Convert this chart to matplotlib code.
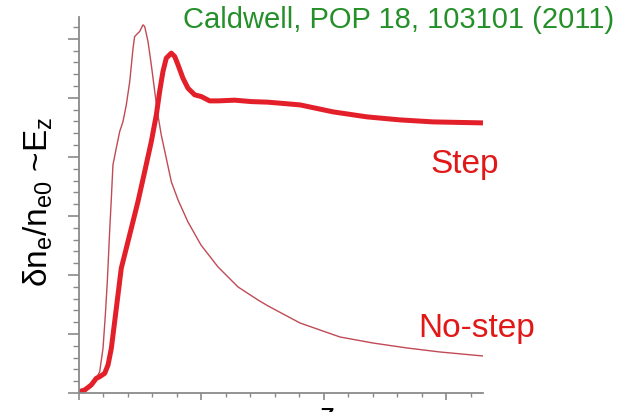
import numpy as np
import matplotlib
matplotlib.use('Agg')
import matplotlib.pyplot as plt
from matplotlib.ticker import MultipleLocator, NullFormatter

plt.rcParams['font.family'] = ['Liberation Sans', 'DejaVu Sans']
plt.rcParams['mathtext.fontset'] = 'custom'
plt.rcParams['mathtext.rm'] = 'Liberation Sans'
plt.rcParams['mathtext.it'] = 'Liberation Sans:italic'

# z in units of major x ticks, signal in units of major y ticks
nostep_z = [0.000, 0.077, 0.145, 0.173, 0.200, 0.219, 0.235, 0.254, 0.268, 0.281,
            0.308, 0.336, 0.363, 0.390, 0.418, 0.445, 0.458, 0.485, 0.499, 0.526,
            0.540, 0.567, 0.594, 0.622, 0.648, 0.675, 0.716, 0.757, 0.812, 0.893,
            0.999, 1.138, 1.301, 1.464, 1.546, 1.807, 2.133, 2.402, 2.679, 2.948,
            3.300]
nostep_v = [0.020, 0.107, 0.249, 0.361, 0.758, 1.322, 1.886, 2.734, 3.300, 3.864,
            4.147, 4.429, 4.598, 4.881, 5.276, 5.842, 6.039, 6.097, 6.124, 6.237,
            6.209, 5.954, 5.559, 5.107, 4.712, 4.373, 3.978, 3.581, 3.271, 2.898,
            2.508, 2.136, 1.797, 1.576, 1.475, 1.186, 0.949, 0.847, 0.763, 0.695,
            0.627]

step_z = [0.000, 0.051, 0.104, 0.145, 0.173, 0.214, 0.241, 0.268, 0.295, 0.322,
          0.349, 0.390, 0.431, 0.485, 0.540, 0.594, 0.635, 0.662, 0.689, 0.716,
          0.757, 0.785, 0.812, 0.852, 0.893, 0.948, 1.002, 1.070, 1.138, 1.274,
          1.409, 1.546, 1.807, 2.076, 2.353, 2.622, 2.891, 3.300]
step_v = [0.020, 0.051, 0.136, 0.249, 0.276, 0.334, 0.475, 0.758, 1.208, 1.661,
          2.114, 2.453, 2.792, 3.242, 3.751, 4.259, 4.712, 5.107, 5.446, 5.673,
          5.758, 5.700, 5.559, 5.334, 5.164, 5.051, 5.022, 4.949, 4.949, 4.961,
          4.937, 4.927, 4.881, 4.763, 4.678, 4.627, 4.593, 4.576]

fig = plt.figure(figsize=(6.33, 4.12), dpi=100)
ax = fig.add_axes([78.5 / 633, 19 / 412, (483 - 78.5) / 633, (393 - 17) / 412])

ax.plot(nostep_z, nostep_v, color='#c04a55', lw=1.0, solid_joinstyle='round')
ax.plot(step_z, step_v, color='#e3202a', lw=3.6, solid_joinstyle='round',
        solid_capstyle='round')

ax.set_xlim(0, 3.3)
ax.set_ylim(0, 6.37)

for s in ['top', 'right']:
    ax.spines[s].set_visible(False)
for s in ['left', 'bottom']:
    ax.spines[s].set_color('#8a8a8a')
    ax.spines[s].set_linewidth(1.3)

ax.xaxis.set_major_locator(MultipleLocator(1))
ax.xaxis.set_minor_locator(MultipleLocator(0.2))
ax.yaxis.set_major_locator(MultipleLocator(1))
ax.yaxis.set_minor_locator(MultipleLocator(0.2))
ax.xaxis.set_major_formatter(NullFormatter())
ax.yaxis.set_major_formatter(NullFormatter())
ax.tick_params(axis='x', which='major', length=5, width=1.2, color='#8a8a8a', direction='out')
ax.tick_params(axis='x', which='minor', length=3, width=1.0, color='#8a8a8a', direction='out')
ax.tick_params(axis='y', which='major', length=8, width=1.2, color='#8a8a8a', direction='out')
ax.tick_params(axis='y', which='minor', length=4, width=1.0, color='#8a8a8a', direction='out')

fig.text(38 / 633, 210 / 412, r'δn$_\mathregular{e}$/n$_\mathregular{e0}$ ~E$_\mathregular{z}$',
         rotation=90, fontsize=24, ha='center', va='center', color='black')
fig.text(320 / 633, (412 - 402) / 412, 'z', fontsize=22, ha='left', va='top', color='black')

fig.text(183 / 633, (412 - 28) / 412, 'Caldwell, POP 18, 103101 (2011)',
         fontsize=21, color='#25902a', ha='left', va='baseline')
fig.text(430 / 633, (412 - 173) / 412, 'Step', fontsize=24, color='#e01818',
         ha='left', va='baseline')
fig.text(418 / 633, (412 - 337) / 412, 'No-step', fontsize=24, color='#e01818',
         ha='left', va='baseline')

fig.savefig('out.png', dpi=100)
